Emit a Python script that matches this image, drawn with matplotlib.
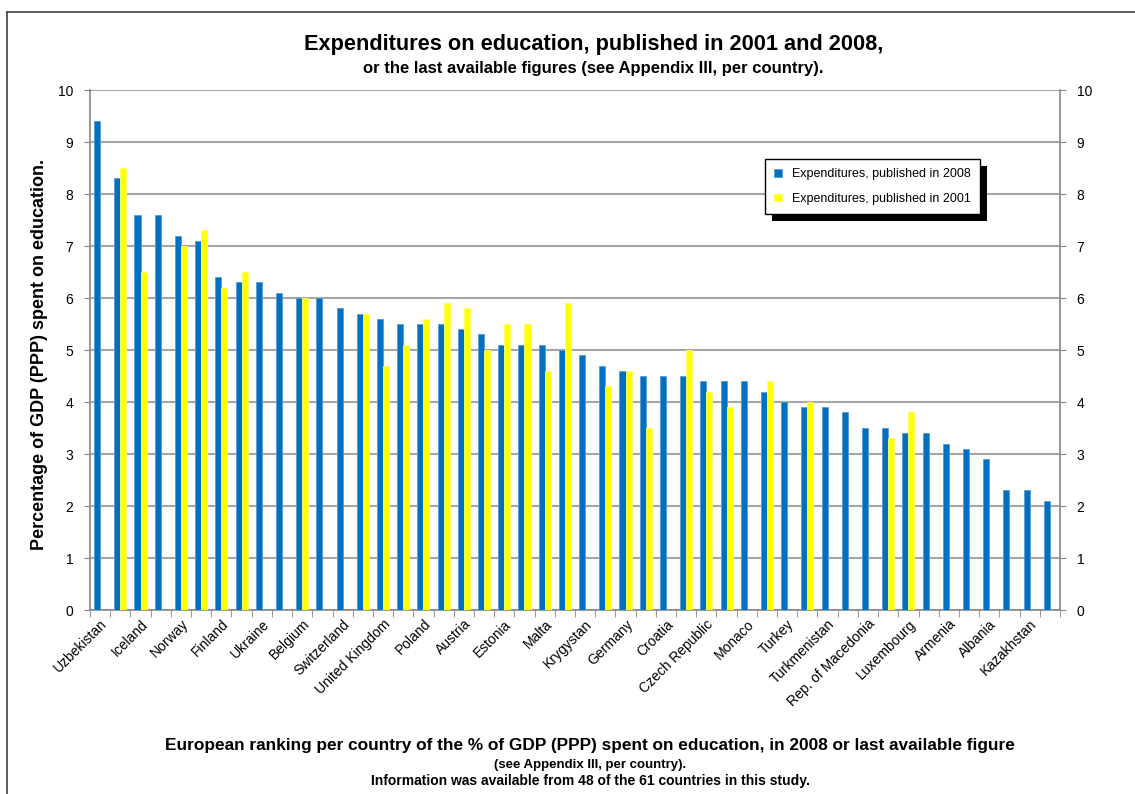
import numpy as np
import matplotlib
matplotlib.use("Agg")
import matplotlib.pyplot as plt
from matplotlib.patches import Rectangle
from matplotlib.transforms import IdentityTransform
from matplotlib.lines import Line2D

plt.rcParams['font.family'] = ['Liberation Sans', 'DejaVu Sans']

# Labels shown on the axis (every second country of the 48 ranked)
shown_labels = ['Uzbekistan', 'Iceland', 'Norway', 'Finland', 'Ukraine', 'Belgium',
                'Switzerland', 'United Kingdom', 'Poland', 'Austria', 'Estonia', 'Malta',
                'Krygystan', 'Germany', 'Croatia', 'Czech Republic', 'Monaco', 'Turkey',
                'Turkmenistan', 'Rep. of Macedonia', 'Luxembourg', 'Armenia', 'Albania',
                'Kazakhstan']

# % of GDP spent on education, published in 2008 (48 countries, ranked)
exp_2008 = [9.4, 8.3, 7.6, 7.6, 7.2, 7.1, 6.4, 6.3, 6.3, 6.1, 6.0, 6.0,
            5.8, 5.7, 5.6, 5.5, 5.5, 5.5, 5.4, 5.3, 5.1, 5.1, 5.1, 5.0,
            4.9, 4.7, 4.6, 4.5, 4.5, 4.5, 4.4, 4.4, 4.4, 4.2, 4.0, 3.9,
            3.9, 3.8, 3.5, 3.5, 3.4, 3.4, 3.2, 3.1, 2.9, 2.3, 2.3, 2.1]

# published in 2001 (nan = no figure)
nan = np.nan
exp_2001 = [nan, 8.5, 6.5, nan, 7.0, 7.3, 6.2, 6.5, nan, nan, 6.0, nan,
            nan, 5.7, 4.7, 5.1, 5.6, 5.9, 5.8, 5.0, 5.5, 5.5, 4.6, 5.9,
            nan, 4.3, 4.6, 3.5, nan, 5.0, 4.2, 3.9, nan, 4.4, nan, 4.0,
            nan, nan, nan, 3.3, 3.8, nan, nan, nan, nan, nan, nan, nan]

x = np.arange(len(exp_2008))
w = 0.3

fig = plt.figure(figsize=(11.35, 7.94), dpi=100)
ax = fig.add_axes([90/1135, 184/794, 970/1135, 520/794])

b1 = ax.bar(x - w/2, exp_2008, width=w, color='#0070C0', edgecolor='#5B9BD5',
            linewidth=0.6, label='Expenditures, published in 2008', zorder=3)
b2 = ax.bar(x + w/2, exp_2001, width=w, color='#FFFF00', edgecolor='#FFFF66',
            linewidth=0.6, label='Expenditures, published in 2001', zorder=3)

ax.set_xlim(-0.5, len(x) - 0.5)
ax.set_ylim(0, 10)
ax.set_yticks(range(0, 11))
ax.grid(axis='y', color='#A6A6A6', linewidth=1.5, zorder=0)
ax.set_axisbelow(True)

ax.set_xticks(x[::2])
ax.set_xticklabels(shown_labels, rotation=45, ha='right', rotation_mode='anchor',
                   fontsize=10)
ax.set_xticks(np.arange(-0.5, len(x)), minor=True)
ax.tick_params(axis='x', which='major', length=0, pad=5)
ax.tick_params(axis='x', which='minor', length=5, color='#868686')
ax.tick_params(axis='y', labelsize=10, length=4, color='#868686',
               right=True, labelright=True, pad=8)

for s in ['left', 'bottom', 'right']:
    ax.spines[s].set_color('#868686')
    ax.spines[s].set_linewidth(1.2)
ax.spines['top'].set_visible(False)

# Legend with a solid black drop shadow
leg = ax.legend(handles=[b1, b2], loc='upper left',
                bbox_to_anchor=((765 - 90) / 970, (610 - 159) / 520),
                fontsize=9, frameon=True, fancybox=False, edgecolor='black',
                framealpha=1, handlelength=0.6, handleheight=0.6,
                labelspacing=1.0, borderpad=0.75, handletextpad=0.8,
                borderaxespad=0)
leg.get_frame().set_linewidth(1.0)
leg.set_zorder(6)
fig.canvas.draw()
bb = leg.get_window_extent()
shadow = Rectangle((bb.x0 + 7, bb.y0 - 7), bb.width, bb.height,
                   transform=IdentityTransform(), facecolor='black',
                   edgecolor='none', zorder=5, clip_on=False)
ax.add_patch(shadow)

# Titles and axis texts
fig.text(0.523, 0.944, 'Expenditures on education, published in 2001 and 2008,',
         ha='center', va='center', fontsize=15.7, fontweight='bold')
fig.text(0.523, 0.914, 'or the last available figures (see Appendix III, per country).',
         ha='center', va='center', fontsize=12, fontweight='bold')
fig.text(0.035, 0.554, 'Percentage of GDP (PPP) spent on education.',
         ha='center', va='center', rotation=90, fontsize=13, fontweight='bold')
fig.text(0.52, 0.0617, 'European ranking per country of the % of GDP (PPP) spent on '
         'education, in 2008 or last available figure',
         ha='center', va='center', fontsize=12.4, fontweight='bold')
fig.text(0.52, 0.0365, '(see Appendix III, per country).',
         ha='center', va='center', fontsize=9.5, fontweight='bold')
fig.text(0.52, 0.0164, 'Information was available from 48 of the 61 countries in this study.',
         ha='center', va='center', fontsize=10, fontweight='bold')

# chart-area border (top and left edges visible)
fig.add_artist(Line2D([7/1135, 1], [1 - 12/794, 1 - 12/794], color='#404040', lw=1.2))
fig.add_artist(Line2D([7/1135, 7/1135], [0, 1 - 12/794], color='#404040', lw=1.2))

fig.savefig('out.png', dpi=100)
